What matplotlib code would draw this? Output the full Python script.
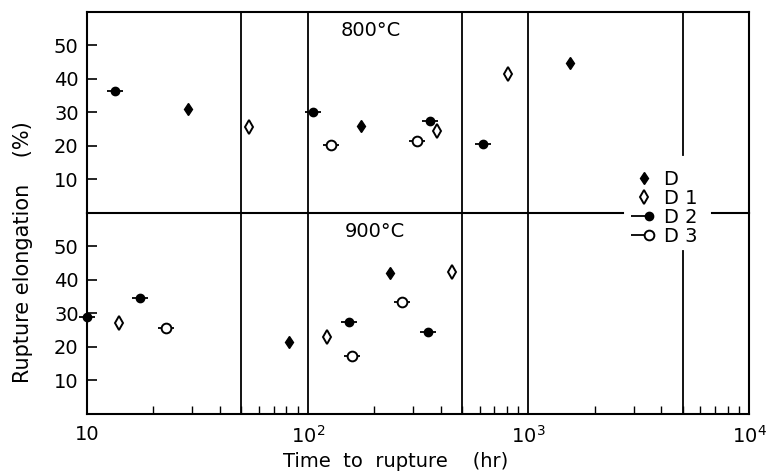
import matplotlib
matplotlib.use("Agg")
import matplotlib.pyplot as plt
from matplotlib.lines import Line2D
from matplotlib.legend_handler import HandlerTuple
from matplotlib.ticker import FixedLocator, NullFormatter

plt.rcParams['font.family'] = ['DejaVu Sans']

# ---- data: time to rupture (hr) and rupture elongation (%) ----
# 800 C
D_800_t = [28.8, 174, 1540]
D_800_e = [31.0, 26.0, 44.8]
D1_800_t = [54.4, 384, 811]
D1_800_e = [25.7, 24.5, 41.5]
D2_800_t = [13.4, 106, 358, 625]
D2_800_e = [36.4, 30.0, 27.5, 20.5]
D3_800_t = [127.6, 312]
D3_800_e = [20.3, 21.5]
# 900 C
D_900_t = [82, 236]
D_900_e = [21.4, 42.0]
D1_900_t = [14.0, 122, 452]
D1_900_e = [27.1, 23.0, 42.4]
D2_900_t = [10, 17.4, 153, 350]
D2_900_e = [29.0, 34.5, 27.5, 24.5]
D3_900_t = [22.7, 158, 267]
D3_900_e = [25.5, 17.2, 33.3]

series_labels = ['D', 'D 1', 'D 2', 'D 3']
panel_titles = ['800°C', '900°C']
y_ticks = [10, 20, 30, 40, 50]
x_major = [10, 100, 1000, 10000]
x_major_labels = ['10', '$10^2$', '$10^3$', '$10^4$']
v_lines = [50, 100, 500, 1000, 5000]

fig = plt.figure(figsize=(7.7, 4.75), dpi=100)
L, R = 0.113, 0.973
B, M, T = 0.1284, 0.5526, 0.9747
ax_top = fig.add_axes([L, M, R - L, T - M])
ax_bot = fig.add_axes([L, B, R - L, M - B], sharex=ax_top)

lw_sp = 1.5
for ax in (ax_top, ax_bot):
    ax.patch.set_visible(False)
    ax.set_xscale('log')
    ax.set_xlim(10, 10000)
    ax.set_ylim(0, 60)
    for s in ax.spines.values():
        s.set_linewidth(lw_sp)
    ax.set_yticks(y_ticks)
    ax.set_yticklabels([str(v) for v in y_ticks], fontsize=14)
    ax.tick_params(axis='y', direction='in', length=7, width=1.2, pad=6,
                   right=False)

ax_top.spines['bottom'].set_visible(False)
ax_bot.spines['top'].set_visible(False)
ax_top.tick_params(axis='x', which='both', bottom=False, top=False,
                   labelbottom=False)

# bottom x axis ticks
minor = []
for dec in [10, 100, 1000]:
    for k in range(2, 10):
        minor.append(dec * k)
ax_bot.xaxis.set_major_locator(FixedLocator(x_major))
ax_bot.set_xticklabels(x_major_labels, fontsize=14)
ax_bot.xaxis.set_minor_locator(FixedLocator(minor))
ax_bot.xaxis.set_minor_formatter(NullFormatter())
ax_bot.tick_params(axis='x', which='major', direction='in', length=0, pad=8)
ax_bot.tick_params(axis='x', which='minor', direction='in', length=6,
                   width=1.0, top=False)

# vertical lines
for v in v_lines:
    if v == 5000:
        ax_top.axvline(v, ymin=0.287, ymax=1, color='black', lw=1.3)
        ax_bot.axvline(v, ymin=0, ymax=0.81, color='black', lw=1.3)
    else:
        ax_top.axvline(v, color='black', lw=1.3)
        ax_bot.axvline(v, color='black', lw=1.3)

# interrupted middle line
ax_top.axhline(0, xmin=0, xmax=0.81, color='black', lw=lw_sp, clip_on=False)
ax_top.axhline(0, xmin=0.944, xmax=1, color='black', lw=lw_sp, clip_on=False)

bar_kw = dict(marker='_', markersize=11, markeredgewidth=1.3, color='black',
              linestyle='none', clip_on=False, zorder=3)
D_kw = dict(marker='d', markersize=6.5, color='black', markerfacecolor='black',
            linestyle='none', clip_on=False, zorder=4)
D1_kw = dict(marker='d', markersize=7.5, color='black', markerfacecolor='white',
             markeredgewidth=1.4, linestyle='none', clip_on=False, zorder=4)
D2_kw = dict(marker='o', markersize=6, color='black', markerfacecolor='black',
             linestyle='none', clip_on=False, zorder=4)
D3_kw = dict(marker='o', markersize=7, color='black', markerfacecolor='white',
             markeredgewidth=1.4, linestyle='none', clip_on=False, zorder=4)


def draw(ax, Dt, De, D1t, D1e, D2t, D2e, D3t, D3e):
    ax.plot(Dt, De, **D_kw)
    ax.plot(D1t, D1e, **D1_kw)
    ax.plot(D2t, D2e, **bar_kw)
    ax.plot(D2t, D2e, **D2_kw)
    ax.plot(D3t, D3e, **bar_kw)
    ax.plot(D3t, D3e, **D3_kw)


draw(ax_top, D_800_t, D_800_e, D1_800_t, D1_800_e, D2_800_t, D2_800_e,
     D3_800_t, D3_800_e)
draw(ax_bot, D_900_t, D_900_e, D1_900_t, D1_900_e, D2_900_t, D2_900_e,
     D3_900_t, D3_900_e)

ax_top.text(0.428, 0.91, panel_titles[0], transform=ax_top.transAxes,
            fontsize=14, ha='center', va='center')
ax_bot.text(0.435, 0.905, panel_titles[1], transform=ax_bot.transAxes,
            fontsize=14, ha='center', va='center')


def strip(kw):
    return {k: v for k, v in kw.items() if k != 'clip_on'}


h_D = Line2D([], [], **strip(D_kw))
h_D1 = Line2D([], [], **strip(D1_kw))
h_bar = Line2D([], [], **strip(bar_kw))
h_D2 = (h_bar, Line2D([], [], **strip(D2_kw)))
h_D3 = (h_bar, Line2D([], [], **strip(D3_kw)))
fig.legend([h_D, h_D1, h_D2, h_D3], series_labels,
           handler_map={tuple: HandlerTuple(ndivide=None, pad=0)},
           loc='center left', bbox_to_anchor=(0.81, 0.562), frameon=False,
           fontsize=14, handlelength=1.1, handletextpad=0.45,
           labelspacing=0.0, borderpad=0)

fig.text(0.514, 0.008, 'Time  to  rupture    (hr)', fontsize=14,
         ha='center', va='bottom')
fig.text(0.03, 0.469, 'Rupture elongation    (%)', fontsize=15,
         rotation=90, ha='center', va='center')

fig.savefig('out.png', dpi=100)
